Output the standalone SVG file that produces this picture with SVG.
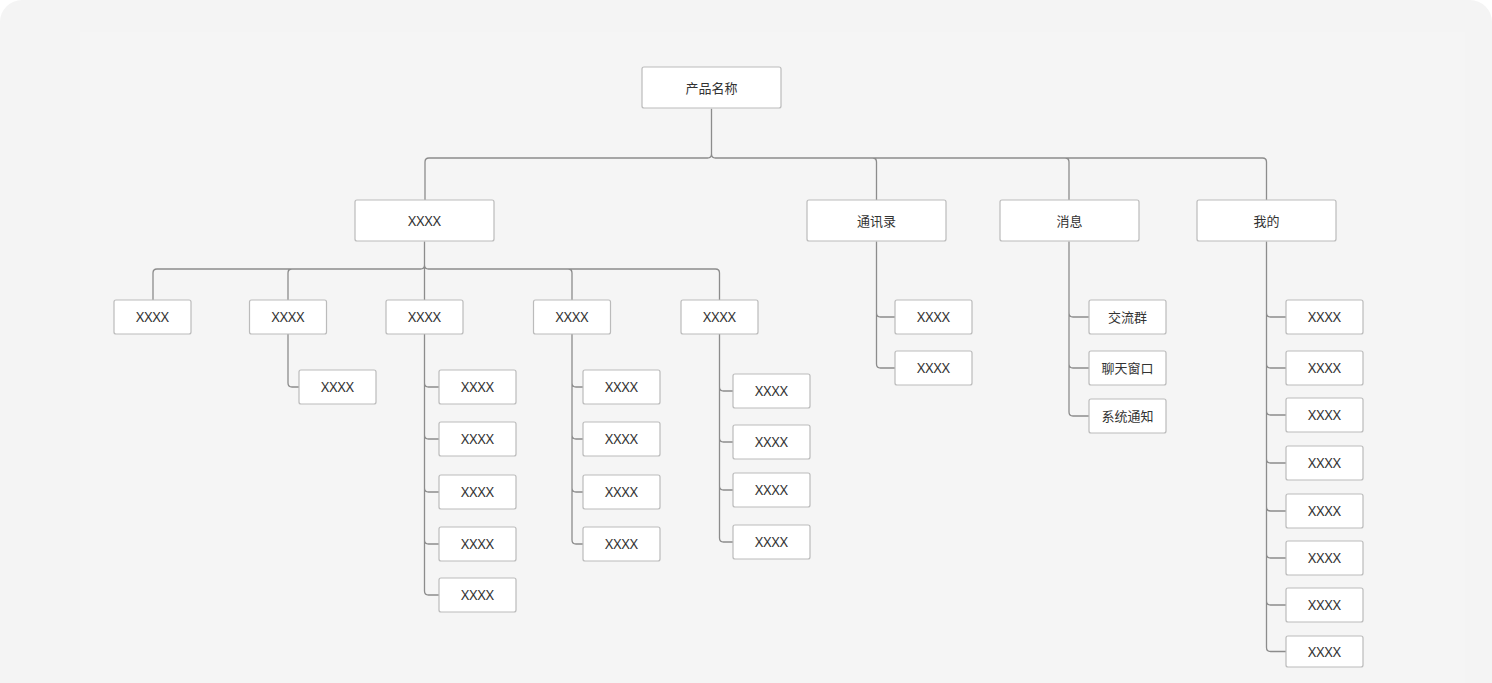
<svg xmlns="http://www.w3.org/2000/svg" width="1492" height="683" viewBox="0 0 1492 683">
<style>
.bg{fill:#f4f4f4}
.inner{fill:#f5f5f5}
.box{fill:#ffffff;stroke:#bbbbbb;stroke-width:1.2}
.lbl{font-family:"Noto Sans","Noto Sans CJK SC",sans-serif;font-size:14px;fill:#333333;text-anchor:middle}
.cjk{font-family:"Noto Sans CJK SC","Noto Sans",sans-serif;font-size:13px;fill:#333333;text-anchor:middle}
.con{fill:none;stroke:#8c8c8c;stroke-width:1.3}
</style>
<rect x="0" y="0" width="1492" height="683" fill="#ffffff"/>
<rect class="bg" x="0" y="0" width="1492" height="740" rx="22"/>
<rect class="inner" x="80" y="32" width="1385" height="700"/>

<g id="connectors">
<!-- root to level 1 -->
<path class="con" d="M711.5 108.7 V154 Q711.5 158 707.5 158 H429 Q425 158 425 162 V200 M711.5 154 Q711.5 158 715.5 158 H872.5 Q876.5 158 876.5 162 V200 M872.5 158 H1065 Q1069 158 1069 162 V200 M1065 158 H1262.5 Q1266.5 158 1266.5 162 V200"/>
<!-- XXXX to level 2 -->
<path class="con" d="M424.5 241.5 V300 M424.5 265 Q424.5 269 420.5 269 H157 Q153 269 153 273 V300 M292 269 Q288 269 288 273 V300 M424.5 265 Q424.5 269 428.5 269 H568 Q572 269 572 273 V300 M568 269 H715.5 Q719.5 269 719.5 273 V300"/>
<!-- child 2 -->
<path class="con" d="M288 334 V383 Q288 387 292 387 H299"/>
<!-- child 3 -->
<path class="con" d="M424.5 334 V591 Q424.5 595 428.5 595 H439 M424.5 383 Q424.5 387 428.5 387 H439 M424.5 435 Q424.5 439 428.5 439 H439 M424.5 488 Q424.5 492 428.5 492 H439 M424.5 540 Q424.5 544 428.5 544 H439"/>
<!-- child 4 -->
<path class="con" d="M572 334 V540 Q572 544 576 544 H583 M572 383 Q572 387 576 387 H583 M572 435 Q572 439 576 439 H583 M572 488 Q572 492 576 492 H583"/>
<!-- child 5 -->
<path class="con" d="M719.5 334 V538 Q719.5 542 723.5 542 H733 M719.5 387 Q719.5 391 723.5 391 H733 M719.5 438 Q719.5 442 723.5 442 H733 M719.5 486 Q719.5 490 723.5 490 H733"/>
<!-- 通讯录 -->
<path class="con" d="M876.5 241.5 V364 Q876.5 368 880.5 368 H895 M876.5 313 Q876.5 317 880.5 317 H895"/>
<!-- 消息 -->
<path class="con" d="M1069 241.5 V412 Q1069 416 1073 416 H1089 M1069 313 Q1069 317 1073 317 H1089 M1069 364 Q1069 368 1073 368 H1089"/>
<!-- 我的 -->
<path class="con" d="M1266.5 241.5 V647.5 Q1266.5 651.5 1270.5 651.5 H1286 M1266.5 313 Q1266.5 317 1270.5 317 H1286 M1266.5 364 Q1266.5 368 1270.5 368 H1286 M1266.5 411 Q1266.5 415 1270.5 415 H1286 M1266.5 459 Q1266.5 463 1270.5 463 H1286 M1266.5 507 Q1266.5 511 1270.5 511 H1286 M1266.5 554 Q1266.5 558 1270.5 558 H1286 M1266.5 601 Q1266.5 605 1270.5 605 H1286"/>
</g>

<g id="root"><rect class="box" x="642" y="67" width="139" height="41" rx="2"/><text class="cjk" x="711.5" y="92.5">产品名称</text></g>

<g id="l1-xxxx"><rect class="box" x="355" y="200" width="139" height="41" rx="2"/><text class="lbl" x="424.5" y="225.5">XXXX</text></g>
<g id="l1-contacts"><rect class="box" x="807" y="200" width="139" height="41" rx="2"/><text class="cjk" x="876.5" y="225.5">通讯录</text></g>
<g id="l1-msg"><rect class="box" x="1000" y="200" width="139" height="41" rx="2"/><text class="cjk" x="1069.5" y="225.5">消息</text></g>
<g id="l1-me"><rect class="box" x="1197" y="200" width="139" height="41" rx="2"/><text class="cjk" x="1266.5" y="225.5">我的</text></g>

<g id="c1"><rect class="box" x="114" y="300" width="77" height="34" rx="2"/><text class="lbl" x="152.5" y="322">XXXX</text></g>
<g id="c2"><rect class="box" x="249.5" y="300" width="77" height="34" rx="2"/><text class="lbl" x="288" y="322">XXXX</text></g>
<g id="c3"><rect class="box" x="386" y="300" width="77" height="34" rx="2"/><text class="lbl" x="424.5" y="322">XXXX</text></g>
<g id="c4"><rect class="box" x="533.5" y="300" width="77" height="34" rx="2"/><text class="lbl" x="572" y="322">XXXX</text></g>
<g id="c5"><rect class="box" x="681" y="300" width="77" height="34" rx="2"/><text class="lbl" x="719.5" y="322">XXXX</text></g>

<g id="c2-1"><rect class="box" x="299" y="370" width="77" height="34" rx="2"/><text class="lbl" x="337.5" y="392">XXXX</text></g>

<g id="c3-1"><rect class="box" x="439" y="370" width="77" height="34" rx="2"/><text class="lbl" x="477.5" y="392">XXXX</text></g>
<g id="c3-2"><rect class="box" x="439" y="422" width="77" height="34" rx="2"/><text class="lbl" x="477.5" y="444">XXXX</text></g>
<g id="c3-3"><rect class="box" x="439" y="475" width="77" height="34" rx="2"/><text class="lbl" x="477.5" y="497">XXXX</text></g>
<g id="c3-4"><rect class="box" x="439" y="527" width="77" height="34" rx="2"/><text class="lbl" x="477.5" y="549">XXXX</text></g>
<g id="c3-5"><rect class="box" x="439" y="578" width="77" height="34" rx="2"/><text class="lbl" x="477.5" y="600">XXXX</text></g>

<g id="c4-1"><rect class="box" x="583" y="370" width="77" height="34" rx="2"/><text class="lbl" x="621.5" y="392">XXXX</text></g>
<g id="c4-2"><rect class="box" x="583" y="422" width="77" height="34" rx="2"/><text class="lbl" x="621.5" y="444">XXXX</text></g>
<g id="c4-3"><rect class="box" x="583" y="475" width="77" height="34" rx="2"/><text class="lbl" x="621.5" y="497">XXXX</text></g>
<g id="c4-4"><rect class="box" x="583" y="527" width="77" height="34" rx="2"/><text class="lbl" x="621.5" y="549">XXXX</text></g>

<g id="c5-1"><rect class="box" x="733" y="374" width="77" height="34" rx="2"/><text class="lbl" x="771.5" y="396">XXXX</text></g>
<g id="c5-2"><rect class="box" x="733" y="425" width="77" height="34" rx="2"/><text class="lbl" x="771.5" y="447">XXXX</text></g>
<g id="c5-3"><rect class="box" x="733" y="473" width="77" height="34" rx="2"/><text class="lbl" x="771.5" y="495">XXXX</text></g>
<g id="c5-4"><rect class="box" x="733" y="525" width="77" height="34" rx="2"/><text class="lbl" x="771.5" y="547">XXXX</text></g>

<g id="contacts-1"><rect class="box" x="895" y="300" width="77" height="34" rx="2"/><text class="lbl" x="933.5" y="322">XXXX</text></g>
<g id="contacts-2"><rect class="box" x="895" y="351" width="77" height="34" rx="2"/><text class="lbl" x="933.5" y="373">XXXX</text></g>

<g id="msg-1"><rect class="box" x="1089" y="300" width="77" height="34" rx="2"/><text class="cjk" x="1127.5" y="322">交流群</text></g>
<g id="msg-2"><rect class="box" x="1089" y="351" width="77" height="34" rx="2"/><text class="cjk" x="1127.5" y="373">聊天窗口</text></g>
<g id="msg-3"><rect class="box" x="1089" y="399" width="77" height="34" rx="2"/><text class="cjk" x="1127.5" y="421">系统通知</text></g>

<g id="me-1"><rect class="box" x="1286" y="300" width="77" height="34" rx="2"/><text class="lbl" x="1324.5" y="322">XXXX</text></g>
<g id="me-2"><rect class="box" x="1286" y="351" width="77" height="34" rx="2"/><text class="lbl" x="1324.5" y="373">XXXX</text></g>
<g id="me-3"><rect class="box" x="1286" y="398" width="77" height="34" rx="2"/><text class="lbl" x="1324.5" y="420">XXXX</text></g>
<g id="me-4"><rect class="box" x="1286" y="446" width="77" height="34" rx="2"/><text class="lbl" x="1324.5" y="468">XXXX</text></g>
<g id="me-5"><rect class="box" x="1286" y="494" width="77" height="34" rx="2"/><text class="lbl" x="1324.5" y="516">XXXX</text></g>
<g id="me-6"><rect class="box" x="1286" y="541" width="77" height="34" rx="2"/><text class="lbl" x="1324.5" y="563">XXXX</text></g>
<g id="me-7"><rect class="box" x="1286" y="588" width="77" height="34" rx="2"/><text class="lbl" x="1324.5" y="610">XXXX</text></g>
<g id="me-8"><rect class="box" x="1286" y="636" width="77" height="31" rx="2"/><text class="lbl" x="1324.5" y="656.5">XXXX</text></g>
</svg>
